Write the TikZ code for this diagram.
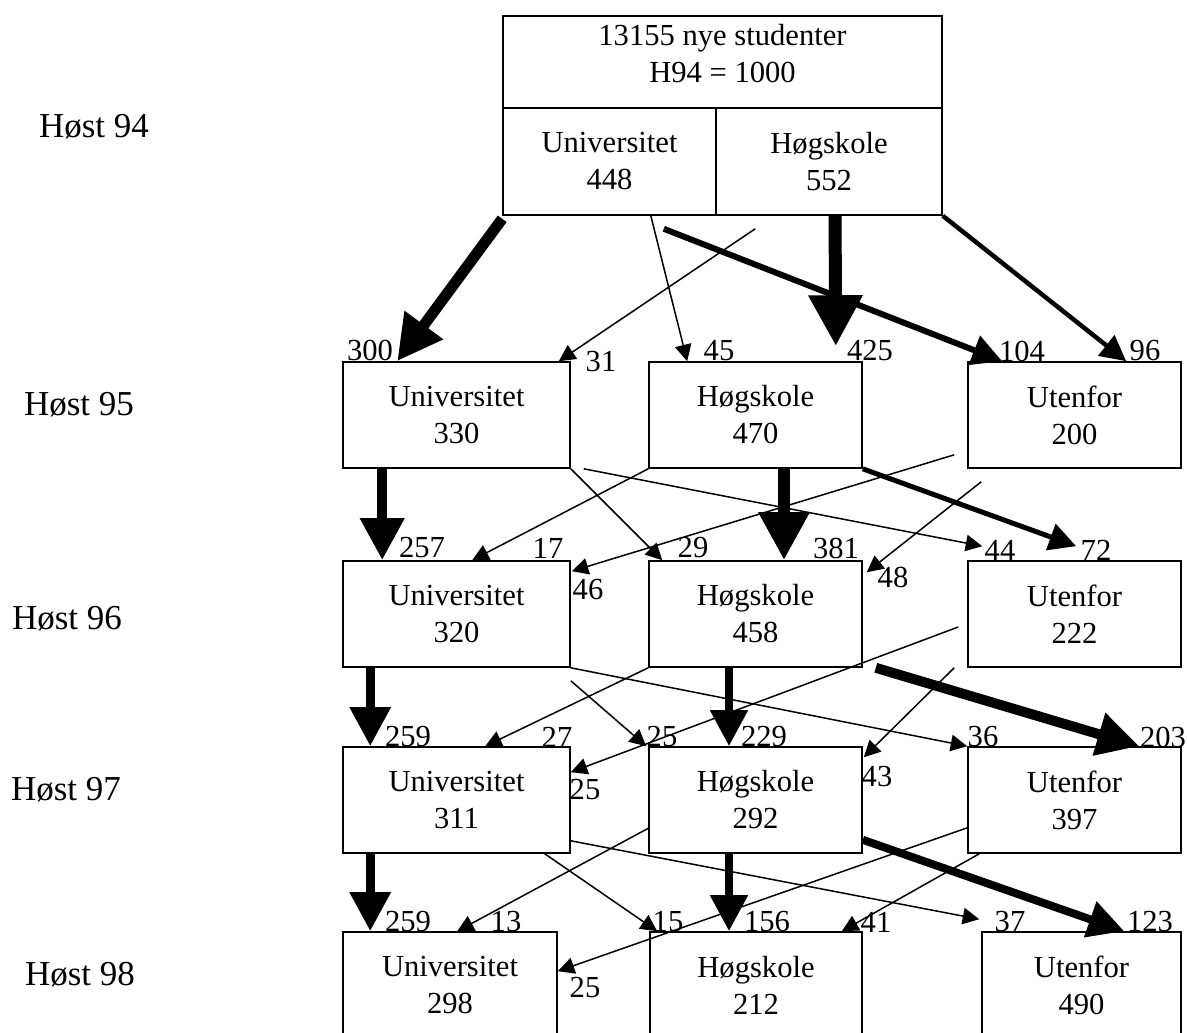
\documentclass[tikz,border=0pt]{standalone}
\usepackage{fontspec}
\setmainfont{Liberation Serif}
\usetikzlibrary{arrows.meta,calc}
\newcommand{\boxfont}{\fontsize{15.3pt}{18.5pt}\selectfont}
\newcommand{\termfont}{\fontsize{17.5pt}{21pt}\selectfont}

\begin{document}
\begin{tikzpicture}[x=0.5pt,y=-0.5pt,
  cell/.style={draw, line width=0.8pt, inner sep=0pt, align=center, font=\boxfont, minimum height=53pt},
  num/.style={inner sep=0pt, font=\boxfont},
  term/.style={inner sep=0pt, font=\termfont},
  flow/.style={line width=#1, -{Triangle[length=6pt 3, width=6pt 3]}},
  flow/.default=0.75pt]

\useasboundingbox (0,0) rectangle (1187,1032);
\clip (0,0) rectangle (1187,1032);

%% Terms %%
\node[term] (t94) at (94,127) {Høst 94};
\node[term] (t95) at (79,405) {Høst 95};
\node[term] (t96) at (67,619) {Høst 96};
\node[term] (t97) at (66,790) {Høst 97};
\node[term] (t98) at (80,975) {Høst 98};

%% Boxes %%
\node[cell, minimum width=219.5pt, minimum height=46pt] (all) at (722.5,62) {};
\node[num, align=center] (title) at (722.5,53.5) {13155 nye studenter\\H94 = 1000};
\node[cell, minimum width=106.5pt, minimum height=53.5pt] (u94) at (609.5,161.5) {Universitet\\448};
\node[cell, minimum width=113pt, minimum height=53.5pt] (h94) at (829,161.5) {Høgskole\\552};

\node[cell, minimum width=113.5pt] (u95) at (456.5,415) {Universitet\\330};
\node[cell, minimum width=106.5pt] (h95) at (755.5,415) {Høgskole\\470};
\node[cell, minimum width=106.5pt] (o95) at (1074.5,415) {Utenfor\\200};

\node[cell, minimum width=113.5pt] (u96) at (456.5,614) {Universitet\\320};
\node[cell, minimum width=106.5pt] (h96) at (755.5,614) {Høgskole\\458};
\node[cell, minimum width=106.5pt] (o96) at (1074.5,614) {Utenfor\\222};

\node[cell, minimum width=113.5pt] (u97) at (456.5,800) {Universitet\\311};
\node[cell, minimum width=106.5pt] (h97) at (755.5,800) {Høgskole\\292};
\node[cell, minimum width=106.5pt] (o97) at (1074.5,800) {Utenfor\\397};

\node[cell, minimum width=107pt] (u98) at (450,985) {Universitet\\298};
\node[cell, minimum width=106pt] (h98) at (756,985) {Høgskole\\212};
\node[cell, minimum width=99.5pt] (o98) at (1081.5,985) {Utenfor\\490};

%% Flows 94-95 %%
\draw[flow=5.5pt] ($(u94.south west)+(0,3)$) -- ($(u95.north west)+(55,0)$);
\draw[flow] ($(u94.south east)+(-66,0)$) -- ($(h95.north west)+(39,0)$);
\draw[flow] ($(h94.south west)+(40,13)$) -- ($(u95.north east)+(-12,0)$);
\draw[flow=3pt] ($(u94.south east)+(-53,13)$) -- ($(o95.north west)+(35,0)$);
\draw[flow=6.5pt] ($(h94.south)+(6,0)$) -- ($(h95.north east)+(-27,-15)$);
\draw[flow=2.25pt] (h94.south east) -- ($(o95.north west)+(159,0)$);

%% Flows 95-96 %%
\draw[flow=5pt] ($(u95.south west)+(40,0)$) -- ($(u96.north west)+(40,0)$);
\draw[flow] (h95.south west) -- ($(u96.north west)+(130,0)$);
\draw[flow] (u95.south east) -- ($(h96.north west)+(14,0)$);
\draw[flow] ($(o95.south west)+(-13,-14)$) -- ($(u96.north east)+(1,11)$);
\draw[flow] ($(u95.south east)+(13,0)$) -- ($(o96.north west)+(15,-14)$);
\draw[flow=6pt] ($(h95.south)+(28.5,0)$) -- ($(h96.north)+(28.5,0)$);
\draw[flow] ($(o95.south west)+(14,13)$) -- ($(h96.north east)+(4,12)$);
\draw[flow=2.5pt] (h95.south east) -- ($(o96.north west)+(109,-14)$);

%% Flows 96-97 %%
\draw[flow=4.5pt] ($(u96.south west)+(28,0)$) -- ($(u97.north west)+(28,0)$);
\draw[flow] (h96.south west) -- ($(u97.north west)+(143,0)$);
\draw[flow] ($(u96.south east)+(0,13)$) -- ($(h97.north west)+(-2,0)$);
\draw[flow] ($(o96.west)+(-9,13)$) -- ($(u97.north east)+(0,26)$);
\draw[flow] (u96.south east) -- (o97.north west);
\draw[flow=4pt] ($(h96.south)+(-26.5,0)$) -- ($(h97.north)+(-26.5,0)$);
\draw[flow] ($(o96.south west)+(-13,0)$) -- ($(h97.north east)+(1,11)$);
\draw[flow=5pt] ($(h96.south east)+(13,0)$) -- ($(o97.north west)+(172,0)$);

%% Flows 97-98 %%
\draw[flow=4.5pt] ($(u97.south west)+(28,0)$) -- ($(u98.north west)+(28,0)$);
\draw[flow] ($(h97.south west)+(1,-26)$) -- ($(u98.north west)+(115,0)$);
\draw[flow] ($(u97.south east)+(-26,0)$) -- ($(h98.north west)+(8,0)$);
\draw[flow] ($(o97.south west)+(0,-26)$) -- ($(u98.north east)+(0,40)$);
\draw[flow=4pt] ($(h97.south)+(-26.5,0)$) -- ($(h98.north)+(-27,0)$);
\draw[flow] ($(o97.south west)+(12,0)$) -- ($(h98.north east)+(-21,0)$);
\draw[flow] ($(u97.south east)+(0,-13)$) -- ($(o98.north west)+(-2,-12)$);
\draw[flow=4pt] ($(h97.south east)+(0,-14)$) -- ($(o98.north west)+(143,0)$);

%% Counts %%
\node[num] (n300) at (370,350) {300};
\node[num] (n31) at (601,362) {31};
\node[num] (n45) at (719,351) {45};
\node[num] (n425) at (870,351) {425};
\node[num] (n104) at (1022,351) {104};
\node[num] (n96) at (1145,351) {96};

\node[num] (n257) at (422,548) {257};
\node[num] (n17) at (548,548) {17};
\node[num] (n46) at (588,590) {46};
\node[num] (n29) at (693,548) {29};
\node[num] (n381) at (836,548) {381};
\node[num] (n48) at (893,577) {48};
\node[num] (n44) at (1000,550) {44};
\node[num] (n72) at (1096,550) {72};

\node[num] (n259a) at (408,737) {259};
\node[num] (n27) at (557,737) {27};
\node[num] (n25a) at (662,737) {25};
\node[num] (n229) at (764,737) {229};
\node[num] (n36) at (983,737) {36};
\node[num] (n203) at (1163,737) {203};
\node[num] (n25b) at (585,790) {25};
\node[num] (n43) at (877,777) {43};

\node[num] (n259b) at (408,922) {259};
\node[num] (n13) at (506,922) {13};
\node[num] (n15) at (668,922) {15};
\node[num] (n156) at (767,922) {156};
\node[num] (n41) at (876,922) {41};
\node[num] (n37) at (1010,922) {37};
\node[num] (n123) at (1150,922) {123};
\node[num] (n25c) at (585,988) {25};

\end{tikzpicture}
\end{document}
